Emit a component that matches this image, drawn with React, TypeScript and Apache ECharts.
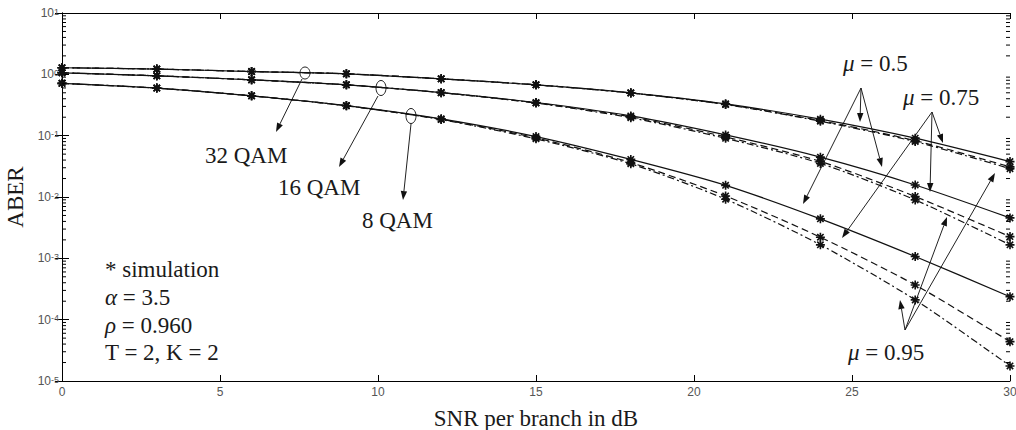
import React, { useEffect, useRef } from "react";
import * as echarts from "echarts";

// SNR per branch (dB) at which the simulation points are drawn
const snr = [0, 3, 6, 9, 12, 15, 18, 21, 24, 27, 30];

// ABER values
const qam32Mu050 = [1.28, 1.22, 1.11, 1.02, 0.845, 0.674, 0.499, 0.33, 0.186, 0.091, 0.0378];
const qam32Mu075 = [1.28, 1.22, 1.11, 1.02, 0.845, 0.674, 0.497, 0.325, 0.176, 0.083, 0.031];
const qam32Mu095 = [1.28, 1.22, 1.11, 1.02, 0.845, 0.674, 0.496, 0.322, 0.172, 0.08, 0.029];
const qam16Mu050 = [1.06, 0.946, 0.813, 0.674, 0.505, 0.347, 0.21, 0.103, 0.0446, 0.0157, 0.00456];
const qam16Mu075 = [1.06, 0.946, 0.813, 0.674, 0.503, 0.343, 0.203, 0.0955, 0.038, 0.0102, 0.00226];
const qam16Mu095 = [1.06, 0.946, 0.813, 0.674, 0.502, 0.34, 0.196, 0.0904, 0.0353, 0.00897, 0.00166];
const qam8Mu050 = [0.713, 0.596, 0.446, 0.31, 0.188, 0.0967, 0.041, 0.0155, 0.0044, 0.00107, 0.000237];
const qam8Mu075 = [0.713, 0.596, 0.446, 0.308, 0.185, 0.092, 0.0364, 0.0104, 0.00221, 0.000368, 0.0000438];
const qam8Mu095 = [0.713, 0.596, 0.446, 0.307, 0.183, 0.0887, 0.0347, 0.0092, 0.00166, 0.00021, 0.0000176];

// axis ticks
const xTicks = [0, 5, 10, 15, 20, 25, 30];
const yDecades = [-5, -4, -3, -2, -1, 0, 1];
const minorMultipliers = [2, 3, 4, 5, 6, 7, 8, 9];

const SERIF = '"Liberation Serif", "Times New Roman", serif';
const SANS = '"Liberation Sans", Arial, sans-serif';

const ASTERISK =
  "path://M-0.9,-5 L0.9,-5 L0.9,5 L-0.9,5 Z M-5,-0.9 L5,-0.9 L5,0.9 L-5,0.9 Z " +
  "M2.9,4.17 L-4.17,-2.9 L-2.9,-4.17 L4.17,2.9 Z M-2.9,4.17 L-4.17,2.9 L2.9,-4.17 L4.17,-2.9 Z";

const DASHED = [7, 4];
const DASHDOT = [7, 3, 2, 3];

const curves = [
  { name: "32 QAM, μ = 0.5", values: qam32Mu050, dash: "solid" as any },
  { name: "32 QAM, μ = 0.75", values: qam32Mu075, dash: DASHED as any },
  { name: "32 QAM, μ = 0.95", values: qam32Mu095, dash: DASHDOT as any },
  { name: "16 QAM, μ = 0.5", values: qam16Mu050, dash: "solid" as any },
  { name: "16 QAM, μ = 0.75", values: qam16Mu075, dash: DASHED as any },
  { name: "16 QAM, μ = 0.95", values: qam16Mu095, dash: DASHDOT as any },
  { name: "8 QAM, μ = 0.5", values: qam8Mu050, dash: "solid" as any },
  { name: "8 QAM, μ = 0.75", values: qam8Mu075, dash: DASHED as any },
  { name: "8 QAM, μ = 0.95", values: qam8Mu095, dash: DASHDOT as any },
];

function arrow(x1: number, y1: number, x2: number, y2: number) {
  const head = 9;
  const hw = 3.2;
  const ang = Math.atan2(y2 - y1, x2 - x1);
  const bx = x2 - head * Math.cos(ang);
  const by = y2 - head * Math.sin(ang);
  const px = -Math.sin(ang) * hw;
  const py = Math.cos(ang) * hw;
  return [
    { type: "line", silent: true, shape: { x1, y1, x2: bx, y2: by }, style: { stroke: "#222", lineWidth: 1 } },
    {
      type: "polygon",
      silent: true,
      shape: { points: [[x2, y2], [bx + px, by + py], [bx - px, by - py]] },
      style: { fill: "#111" },
    },
  ];
}

function label(text: string, x: number, y: number) {
  return {
    type: "text",
    silent: true,
    x,
    y,
    style: {
      text,
      font: `23px ${SERIF}`,
      fill: "#1a1a1a",
      align: "left",
      verticalAlign: "middle",
      rich: {
        i: { fontStyle: "italic", fontSize: 23, fontFamily: SERIF, fill: "#1a1a1a" },
      },
    },
  };
}

function ellipse(cx: number, cy: number, rx: number, ry: number) {
  return {
    type: "ellipse",
    silent: true,
    shape: { cx, cy, rx, ry },
    style: { fill: "none", stroke: "#222", lineWidth: 1 },
  };
}

export default function App() {
  const ref = useRef<HTMLDivElement>(null);

  useEffect(() => {
    if (!ref.current) return;
    const chart = echarts.init(ref.current, undefined, { renderer: "svg" });

    const minorTicks: number[][] = [];
    yDecades.slice(0, -1).forEach((e) => {
      minorMultipliers.forEach((m) => minorTicks.push([0, m * Math.pow(10, e)]));
    });

    const yMin = Math.pow(10, yDecades[0]);
    const yMax = Math.pow(10, yDecades[yDecades.length - 1]);

    const yLabelFmt = (v: number) => `{b|10}{s|${Math.round(Math.log10(v))}}`;

    const graphic: any[] = [
      ellipse(305, 73, 5, 6),
      ellipse(381, 88, 5, 7.5),
      ellipse(411, 116, 5, 7.5),
      ...arrow(302, 79, 276, 132),
      ...arrow(378, 96, 339, 167),
      ...arrow(411, 124, 403, 200),
      label("32 QAM", 205, 155),
      label("16 QAM", 278, 187),
      label("8 QAM", 362, 220),
      ...arrow(861, 88, 860, 122),
      ...arrow(861, 88, 882, 167),
      ...arrow(861, 88, 803, 204),
      ...arrow(932, 112, 943, 143),
      ...arrow(932, 112, 930, 192),
      ...arrow(932, 112, 842, 238),
      ...arrow(905, 330, 900, 300),
      ...arrow(905, 330, 947, 217),
      ...arrow(905, 330, 995, 173),
      label("{i|μ} = 0.5", 843, 63),
      label("{i|μ} = 0.75", 903, 97),
      label("{i|μ} = 0.95", 848, 352),
      label("* simulation", 105, 269),
      label("{i|α} = 3.5", 105, 297),
      label("{i|ρ} = 0.960", 105, 325),
      label("T = 2, K = 2", 105, 352),
    ];

    const option: any = {
      animation: false,
      backgroundColor: "#fff",
      grid: { left: 62, right: 6, top: 13, bottom: 49, containLabel: false, outerBoundsMode: "none" },
      xAxis: [
        {
          type: "value",
          min: xTicks[0],
          max: xTicks[xTicks.length - 1],
          interval: 5,
          name: "SNR per branch in dB",
          nameLocation: "middle",
          nameGap: 26,
          nameTextStyle: { fontFamily: SERIF, fontSize: 23, color: "#1a1a1a" },
          axisLine: { show: true, lineStyle: { color: "#000", width: 1 } },
          axisTick: { show: true, inside: true, length: 6, lineStyle: { color: "#000" } },
          axisLabel: { show: true, fontFamily: SANS, fontSize: 12, color: "#555", margin: 5 },
          splitLine: { show: false },
        },
        {
          type: "value",
          position: "top",
          min: xTicks[0],
          max: xTicks[xTicks.length - 1],
          interval: 5,
          axisLine: { show: true, lineStyle: { color: "#000", width: 1 } },
          axisTick: { show: true, inside: true, length: 6, lineStyle: { color: "#000" } },
          axisLabel: { show: false },
          splitLine: { show: false },
        },
      ],
      yAxis: [
        {
          type: "log",
          logBase: 10,
          min: yMin,
          max: yMax,
          splitNumber: 6,
          name: "ABER",
          nameLocation: "middle",
          nameGap: 30,
          nameTextStyle: { fontFamily: SERIF, fontSize: 23, color: "#1a1a1a" },
          axisLine: { show: true, lineStyle: { color: "#000", width: 1 } },
          axisTick: { show: true, inside: true, length: 7, lineStyle: { color: "#000" } },
          axisLabel: {
            show: true,
            margin: 3,
            formatter: yLabelFmt,
            rich: {
              b: { fontFamily: SANS, fontSize: 12, color: "#555", lineHeight: 12, verticalAlign: "bottom" },
              s: { fontFamily: SANS, fontSize: 9, color: "#555", lineHeight: 9, verticalAlign: "top", padding: [0, 0, 7, 0] },
            },
          },
          splitLine: { show: false },
        },
        {
          type: "log",
          logBase: 10,
          position: "right",
          min: yMin,
          max: yMax,
          splitNumber: 6,
          axisLine: { show: true, lineStyle: { color: "#000", width: 1 } },
          axisTick: { show: true, inside: true, length: 7, lineStyle: { color: "#000" } },
          axisLabel: { show: false },
          splitLine: { show: false },
        },
      ],
      series: [
        ...curves.map((c) => ({
          name: c.name,
          type: "line",
          xAxisIndex: 0,
          yAxisIndex: 0,
          data: snr.map((x, i) => [x, c.values[i]]),
          smooth: 0.25,
          symbol: ASTERISK,
          symbolSize: 9,
          showSymbol: true,
          itemStyle: { color: "#111" },
          lineStyle: { color: "#111", width: 1.2, type: c.dash },
          clip: false,
          silent: true,
        })),
        {
          type: "custom",
          xAxisIndex: 0,
          yAxisIndex: 0,
          silent: true,
          clip: false,
          z: 5,
          data: minorTicks,
          renderItem: (_params: any, api: any) => {
            const v = api.value(1);
            const l = api.coord([xTicks[0], v]);
            const r = api.coord([xTicks[xTicks.length - 1], v]);
            return {
              type: "group",
              children: [
                { type: "line", shape: { x1: l[0], y1: l[1], x2: l[0] + 4, y2: l[1] }, style: { stroke: "#000", lineWidth: 1 } },
                { type: "line", shape: { x1: r[0] - 4, y1: r[1], x2: r[0], y2: r[1] }, style: { stroke: "#000", lineWidth: 1 } },
              ],
            };
          },
        },
      ],
      graphic,
    };

    chart.setOption(option);
    return () => chart.dispose();
  }, []);

  return <div ref={ref} style={{ position: "fixed", left: 0, top: 0, width: 1016, height: 430 }} />;
}
